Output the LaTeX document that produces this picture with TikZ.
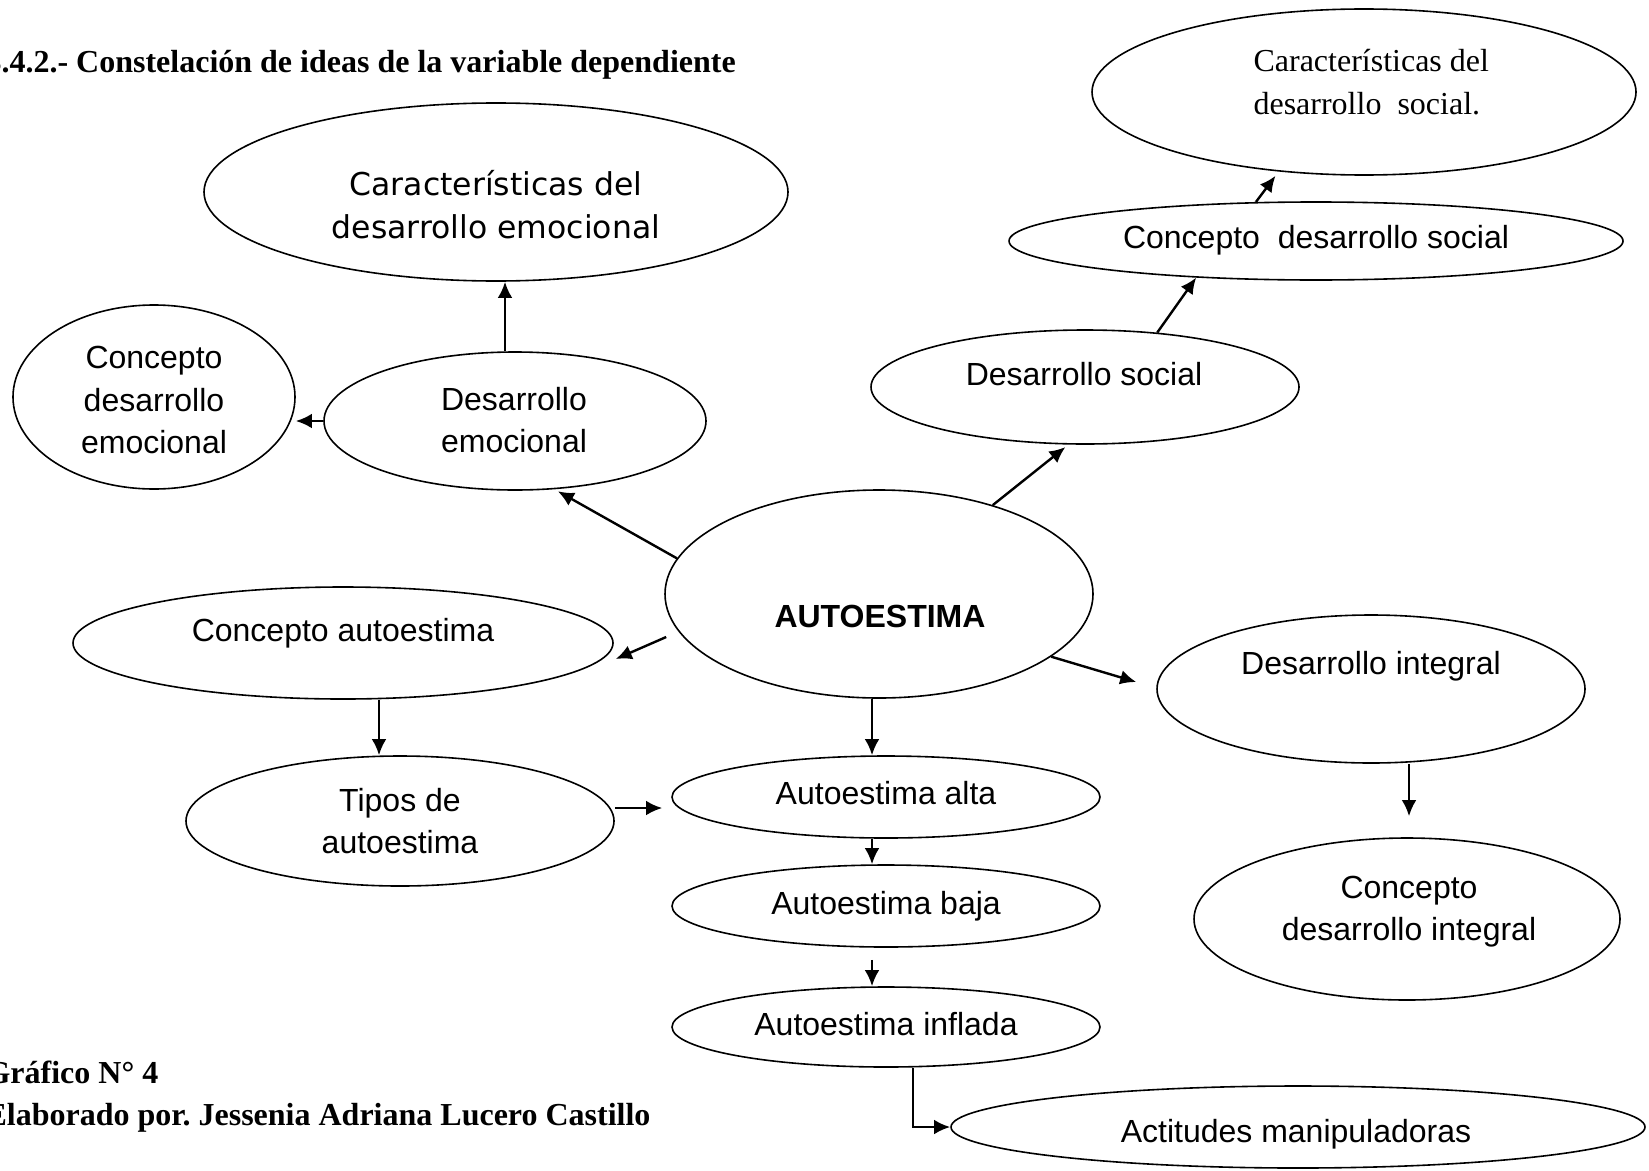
\documentclass[tikz,border=0pt]{standalone}
\usepackage{fontspec}
\setmainfont{Liberation Serif}
\setsansfont{Liberation Sans}
\newfontfamily\verdanafont{DejaVu Sans}
\frenchspacing
\usepackage{tikz}
\usetikzlibrary{positioning,calc}
\usetikzlibrary{shapes.geometric, arrows.meta}
\tikzstyle{idea} = [ellipse, draw=black, line width=0.6pt, inner sep=0pt]
\tikzstyle{txt} = [align=center, font=\sffamily\fontsize{12}{15.8}\selectfont]
\tikzstyle{arrow} = [line width=0.9pt, -{Latex[length=6pt, width=5.5pt]}]
\tikzstyle{capt} = [anchor=base west, inner sep=0pt, font=\bfseries\fontsize{12}{14}\selectfont]

\begin{document}
\begin{tikzpicture}[x=0.375pt, y=-0.375pt]
        % Constelacion de ideas
        \useasboundingbox (0,0) rectangle (1649,1170);
        \fill[white] (0,0) rectangle (1649,1170);
        \node[capt] (titulo) at (-15,73) {3.4.2.- Constelación de ideas de la variable dependiente};
        \node[capt] (grafico) at (-15,1083) {Gráfico N° 4};
        \node[capt] (autor) at (-15,1125) {Elaborado por. Jessenia Adriana Lucero Castillo};
        % elipses
        \node[idea, minimum width=219pt, minimum height=66.75pt] (caremo) at (496,192) {};
        \node[idea, minimum width=105.75pt, minimum height=69pt] (conemo) at (154,397) {};
        \node[idea, minimum width=143.25pt, minimum height=51.75pt] (desemo) at (515,421) {};
        \node[idea, minimum width=204pt, minimum height=62.25pt] (carsoc) at (1364,92) {};
        \node[idea, minimum width=230.25pt, minimum height=29.25pt] (consoc) at (1316,241) {};
        \node[idea, minimum width=160.5pt, minimum height=42.75pt] (dessoc) at (1085,387) {};
        \node[idea, minimum width=160.5pt, minimum height=78pt] (autoest) at (879,594) {};
        \node[idea, minimum width=202.5pt, minimum height=42pt] (conauto) at (343,643) {};
        \node[idea, minimum width=160.5pt, minimum height=55.5pt] (desint) at (1371,689) {};
        \node[idea, minimum width=160.5pt, minimum height=48.75pt] (tipos) at (400,821) {};
        \node[idea, minimum width=160.5pt, minimum height=30.75pt] (alta) at (886,797) {};
        \node[idea, minimum width=160.5pt, minimum height=30.75pt] (baja) at (886,906) {};
        \node[idea, minimum width=160.5pt, minimum height=30pt] (inflada) at (886,1027) {};
        \node[idea, minimum width=159.75pt, minimum height=60.75pt] (conint) at (1407,919) {};
        \node[idea, minimum width=260.25pt, minimum height=30.75pt] (actitudes) at (1298,1127) {};
        % textos
        \node[txt, font=\verdanafont\fontsize{11.8}{16.1}\selectfont] (caremoT) at (496,205) {Características del\\desarrollo emocional};
        \node[txt] (conemoT) at (154,400) {Concepto\\desarrollo\\emocional};
        \node[txt] (desemoT) at (514,420) {Desarrollo\\emocional};
        \node[txt, font=\rmfamily\fontsize{12}{16.1}\selectfont, align=left, anchor=west, inner sep=0pt] (carsocT) at (1253,82) {Características del\\desarrollo\ \ social.};
        \node[txt] (consocT) at (1316,240) {Concepto\ \ desarrollo social};
        \node[txt] (dessocT) at (1084,374) {Desarrollo social};
        \node[txt, font=\sffamily\bfseries\fontsize{12}{15.8}\selectfont] (autoestT) at (880,616) {AUTOESTIMA};
        \node[txt] (conautoT) at (343,633) {Concepto autoestima};
        \node[txt] (desintT) at (1371,666) {Desarrollo integral};
        \node[txt] (tiposT) at (400,821) {Tipos de\\autoestima};
        \node[txt] (altaT) at (886,793) {Autoestima alta};
        \node[txt] (bajaT) at (886,906) {Autoestima baja};
        \node[txt] (infladaT) at (886,1024) {Autoestima inflada};
        \node[txt] (conintT) at (1409,912) {Concepto\\desarrollo integral};
        \node[txt] (actitudesT) at (1296,1134) {Actitudes manipuladoras};
        % flechas
        \draw[arrow] ($(desemo.north)+(-10,0)$) coordinate (a1) -- (a1 |- caremo.south);
        \draw[arrow] (desemo.west) -- (desemo.west -| conemo.east);
        \draw[arrow, shorten >=1.5pt] (autoest.170) -- (desemo.-60);
        \draw[arrow, shorten >=1.5pt] (autoest.38) -- (dessoc.-106);
        \draw[arrow] (dessoc.37) -- (consoc.-163);
        \draw[arrow, shorten >=2pt] (consoc.147) -- (carsoc.-137);
        \draw[arrow] ($(autoest.west)+(2,43)$) -- ($(conauto.east)+(2,16)$);
        \draw[arrow] (autoest.-20) -- ($(desint.west)+(-20,-7)$);
        \draw[arrow] ($(autoest.south)+(-7,0)$) coordinate (a9) -- (a9 |- alta.north);
        \draw[arrow] ($(conauto.south)+(36,0)$) coordinate (a10) -- (a10 |- tipos.north);
        \draw[arrow] ($(tipos.east)+(0,-13)$) coordinate (a11) -- ($(a11 -| alta.west)+(-9,0)$);
        \draw[arrow] ($(alta.south)+(-14,0)$) coordinate (a12) -- (a12 |- baja.north);
        \draw[arrow] ($(baja.south)+(-14,12)$) coordinate (a13) -- (a13 |- inflada.north);
        \draw[arrow] ($(inflada.south)+(27,0)$) coordinate (a14) |- (actitudes.west);
        \draw[arrow] ($(desint.south)+(38,0)$) coordinate (a15) -- ($(a15 |- conint.north)+(0,-21)$);
    \end{tikzpicture}
\end{document}
